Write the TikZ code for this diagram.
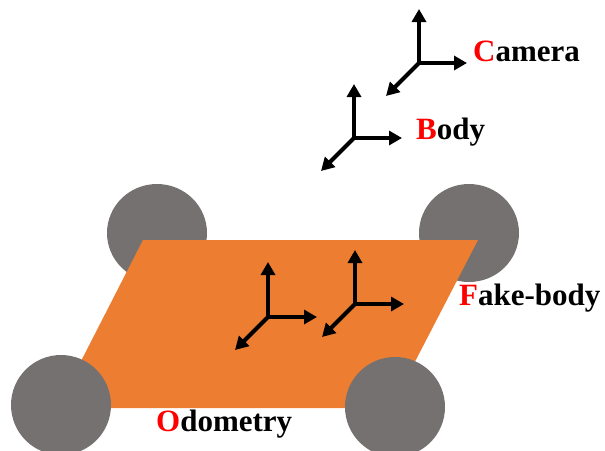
\documentclass[tikz,border=0pt]{standalone}
\usepackage{fontspec}
\setmainfont{Liberation Serif}
\usetikzlibrary{arrows.meta}
\definecolor{plate}{HTML}{ED7D31}
\definecolor{tyre}{HTML}{767171}
\begin{document}
\begin{tikzpicture}[x=1pt,y=-1pt,
  wheel/.style={fill=tyre,draw=none},
  axis/.style={line width=4pt,-{Triangle[length=13pt,width=14pt]}},
  frame/.style={font=\fontsize{31}{36}\selectfont\bfseries,anchor=base west,inner sep=0pt},
  initial/.style={text=red}]
\useasboundingbox (0,0) rectangle (605,450);
% rear wheels sit behind the plate
\fill[wheel] (157,233) ellipse [x radius=50,y radius=49];
\fill[wheel] (469,233) ellipse [x radius=50,y radius=49];
% chassis plate
\fill[plate] (143,240) -- (478,240) -- (391,408) -- (57,408) -- cycle;
% front wheels in front of the plate
\fill[wheel] (61,405) ellipse [x radius=50,y radius=50];
\fill[wheel] (395,407) ellipse [x radius=50,y radius=50];
% frame origins and axis tips
\coordinate (cam) at (419,63);
\coordinate (camz) at (419,9);
\coordinate (camx) at (467,63);
\coordinate (camy) at (386,96);
\coordinate (body) at (354,138);
\coordinate (bodyz) at (354,84);
\coordinate (bodyx) at (402,138);
\coordinate (bodyy) at (321,171);
\coordinate (odom) at (268,317);
\coordinate (odomz) at (268,262);
\coordinate (odomx) at (317,317);
\coordinate (odomy) at (235,350);
\coordinate (fake) at (355,304);
\coordinate (fakez) at (355,250);
\coordinate (fakex) at (404,304);
\coordinate (fakey) at (322,337);
\foreach \f in {cam,body,odom,fake}{
  \draw[axis] (\f) -- (\f z);
  \draw[axis] (\f) -- (\f x);
  \draw[axis] (\f) -- (\f y);
}
% labels
\node[frame] (lcam) at (473,61) {\textcolor{red}{C}amera};
\node[frame] (lbody) at (416,139) {\textcolor{red}{B}ody};
\node[frame] (lfake) at (459,305) {\textcolor{red}{F}ake-body};
\node[frame] (lodom) at (156,431) {\textcolor{red}{O}dometry};
\end{tikzpicture}
\end{document}
